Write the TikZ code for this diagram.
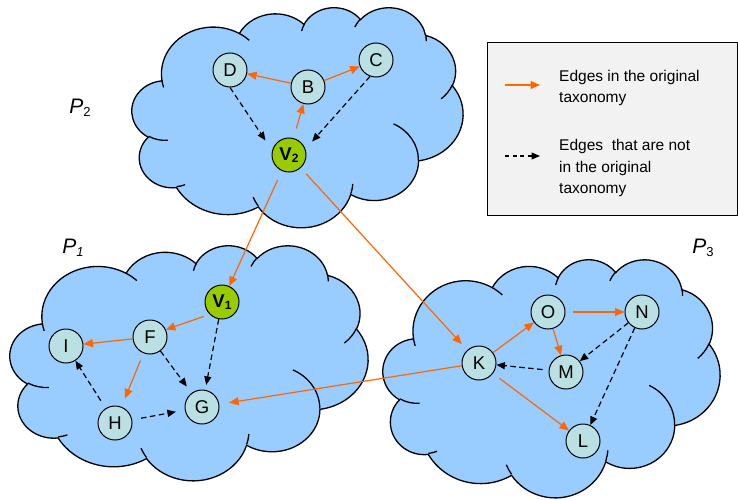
\documentclass[tikz,border=0pt]{standalone}
\usepackage{fontspec}
\setmainfont{Liberation Sans}
\usetikzlibrary{arrows.meta}

\definecolor{cloudblue}{RGB}{153,204,255}
\definecolor{vertexfill}{RGB}{187,224,227}
\definecolor{rootgreen}{RGB}{153,204,0}
\definecolor{edgeorange}{RGB}{255,102,0}
\definecolor{legendgray}{RGB}{242,242,242}

% Cloud outline on a 432 x 432 grid (y pointing down), built from elliptic lobes
\def\cloudoutline{(39.00,143.70)
  arc[start angle=-187.747, end angle=-59.66,  x radius=67.53, y radius=91.90]
  arc[start angle=-152.02,  end angle=-45.476, x radius=53.33, y radius=72.67]
  arc[start angle=-153.478, end angle=-37.326, x radius=43.65, y radius=59.45]
  arc[start angle=-139.713, end angle=-10.211, x radius=48.57, y radius=65.95]
  arc[start angle=-74.758,  end angle=23.208,  x radius=53.33, y radius=72.73]
  arc[start angle=-37.594,  end angle=81.861,  x radius=67.75, y radius=92.20]
  arc[start angle=0.4596,   end angle=121.98,  x radius=57.85, y radius=78.67]
  arc[start angle=16.846,   end angle=146.239, x radius=67.52, y radius=92.15]
  arc[start angle=59.021,   end angle=150.158, x radius=77.20, y radius=105.43]
  arc[start angle=83.304,   end angle=223.083, x radius=43.60, y radius=59.18]
  arc[start angle=120.36,   end angle=264.111, x radius=43.45, y radius=59.45]
  -- cycle}
% The short inner creases between neighbouring lobes
\def\cloudcreases{
  (46.93,261.77)  arc[start angle=85.544,   end angle=120.36,  x radius=43.45, y radius=59.45]
  (69.28,348.99)  arc[start angle=68.236,   end angle=83.304,  x radius=43.60, y radius=59.18]
  (164.78,390.90) arc[start angle=146.239,  end angle=158.479, x radius=67.52, y radius=92.15]
  (288.27,347.51) arc[start angle=4.7378,   end angle=16.846,  x radius=67.52, y radius=92.15]
  (341.29,229.54) arc[start angle=-64.012,  end angle=0.4596,  x radius=57.85, y radius=78.67]
  (417.98,153.54) arc[start angle=23.208,   end angle=49.646,  x radius=53.33, y radius=72.73]
  (383.24,54.26)  arc[start angle=-10.211,  end angle=0.821,   x radius=48.57, y radius=65.95]
  (290.78,39.52)  arc[start angle=-156.282, end angle=-139.713,x radius=48.57, y radius=65.95]
  (221.41,47.20)  arc[start angle=-167.725, end angle=-153.478,x radius=43.65, y radius=59.45]
  (140.00,51.92)  arc[start angle=-59.66,   end angle=-45.767, x radius=67.53, y radius=91.90]
  (41.27,157.89)  arc[start angle=163.192,  end angle=172.253, x radius=67.53, y radius=91.90]
}
% #1,#2: top-left corner, #3,#4: width and height (y measured downwards)
\newcommand\cloudat[4]{%
  \begin{scope}[shift={(#1,-#2)}, xscale=#3/432, yscale=-#4/432]
    \path[cloudbody] \cloudoutline;
    \path[cloudcrease] \cloudcreases;
  \end{scope}}

\begin{document}
\begin{tikzpicture}[x=1pt, y=1pt,
  cloudbody/.style={fill=cloudblue, draw=black, line width=1.3pt},
  cloudcrease/.style={draw=black, line width=1.3pt},
  vertex/.style={circle, draw=black, line width=1pt, fill=vertexfill,
    minimum size=34pt, inner sep=0pt, font=\fontsize{18.5}{18.5}\selectfont},
  root/.style={vertex, fill=rootgreen, font=\fontsize{18.5}{18.5}\selectfont\bfseries},
  taxedge/.style={draw=edgeorange, line width=1.2pt,
    -{Triangle[length=9.5pt,width=8pt]}},
  newedge/.style={draw=black, line width=1.2pt, dash pattern=on 5.5pt off 3.5pt,
    -{Triangle[length=8.5pt,width=7pt]}},
  plabel/.style={font=\fontsize{21}{21}\selectfont, inner sep=0pt},
  legendtext/.style={anchor=west, align=left, inner sep=0pt,
    font=\fontsize{15.5}{21.5}\selectfont}
]
\useasboundingbox (0,-500) rectangle (738,0);

% partitions
\cloudat{132}{7}{331}{220}
\cloudat{10}{245}{358}{235}
\cloudat{383}{259}{337}{238}

\node[plabel] (p2) at (80,-108) {\textit{P}\raisebox{-3pt}{\fontsize{13}{13}\selectfont 2}};
\node[plabel] (p1) at (73,-248) {\textit{P}\raisebox{-3pt}{\fontsize{13}{13}\selectfont\itshape 1}};
\node[plabel] (p3) at (703,-248) {\textit{P}\raisebox{-3pt}{\fontsize{13}{13}\selectfont 3}};

% vertices of P2
\node[vertex] (D) at (230,-70) {D};
\node[vertex] (B) at (308,-87) {B};
\node[vertex] (C) at (376,-60) {C};
\node[root] (V2) at (289,-155) {V\raisebox{-2.5pt}{\fontsize{12}{12}\selectfont 2}};

% vertices of P1
\node[root] (V1) at (222,-302) {V\raisebox{-2.5pt}{\fontsize{12}{12}\selectfont 1}};
\node[vertex] (F) at (150,-337) {F};
\node[vertex] (I) at (66,-346) {I};
\node[vertex] (H) at (115,-423) {H};
\node[vertex] (G) at (202,-407) {G};

% vertices of P3
\node[vertex] (O) at (548,-312) {O};
\node[vertex] (N) at (642,-312) {N};
\node[vertex] (K) at (479,-363) {K};
\node[vertex] (M) at (566,-372) {M};
\node[vertex] (L) at (583,-441) {L};

% edges of the original taxonomy
\draw[taxedge] (B) -- (D);
\draw[taxedge] (B) -- (C);
\draw[taxedge, shorten <=10pt] (V2) -- (B);
\draw[taxedge, shorten <=10pt] (V2) -- (V1);
\draw[taxedge, shorten <=8pt, shorten >=8pt] (V2) -- (K);
\draw[taxedge, shorten <=6pt] (V1.225) -- (F.25);
\draw[taxedge] (F) -- (I);
\draw[taxedge, shorten <=8pt, shorten >=9pt] (F) -- (H);
\draw[taxedge, shorten >=10pt] (K) -- (G);
\draw[taxedge] (K) -- (O);
\draw[taxedge, shorten <=7pt] (O) -- (N);
\draw[taxedge] (O) -- (M);
\draw[taxedge, shorten <=8pt] (K) -- (L);

% edges not in the original taxonomy
\draw[newedge, shorten >=12pt] (D.south) -- (V2.165);
\draw[newedge, shorten >=10pt] (C.250) -- (V2.20);
\draw[newedge, shorten >=5pt] (V1) -- (G);
\draw[newedge, shorten >=8pt] (F) -- (G);
\draw[newedge, shorten <=9pt, shorten >=9pt] (H) -- (G);
\draw[newedge, shorten <=9pt] (H) -- (I);
\draw[newedge] (N) -- (M);
\draw[newedge] (N) -- (L);
\draw[newedge, shorten <=6pt] (M) -- (K);

% legend
\node[draw=black, fill=legendgray, line width=1pt, anchor=north west,
  minimum width=250pt, minimum height=173pt, inner sep=0pt] (legend) at (487,-42) {};
\coordinate (la1) at (505,-85);
\coordinate (lb1) at (540,-85);
\coordinate (la2) at (505,-156);
\coordinate (lb2) at (540,-156);
\draw[taxedge] (la1) -- (lb1);
\draw[newedge, dash pattern=on 4pt off 3.5pt] (la2) -- (lb2);
\node[legendtext] (lt1) at (559,-88) {Edges in the original\\taxonomy};
\node[legendtext] (lt2) at (559,-168) {Edges\ \ that are not\\in the original\\taxonomy};
\end{tikzpicture}
\end{document}
